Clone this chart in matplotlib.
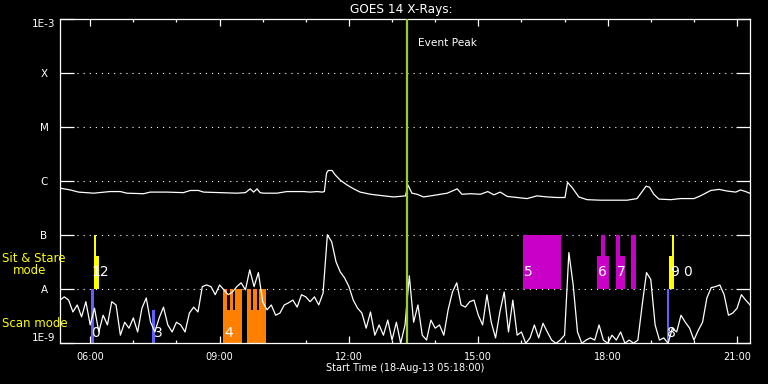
import numpy as np
import matplotlib
matplotlib.use("Agg")
import matplotlib.pyplot as plt
from matplotlib.ticker import FixedLocator, NullLocator

# GOES 14, 0.5-4 A channel: log10 flux, one reading every 6 min from 05:18
short_log = [
    -8.20, -8.14, -8.20, -8.42, -8.29, -8.51, -8.23, -8.66, -8.35, -8.79,
    -8.48, -8.66, -8.23, -8.29, -8.85, -8.61, -8.72, -8.53, -8.79, -8.35,
    -8.16, -8.61, -8.79, -8.53, -8.33, -8.66, -8.79, -8.61, -8.66, -8.79,
    -8.44, -8.33, -8.42, -7.95, -7.92, -7.95, -8.10, -7.92, -8.01, -8.10,
    -8.05, -7.95, -7.88, -8.01, -7.64, -7.95, -7.69, -8.23, -8.38, -8.29,
    -8.48, -8.44, -8.29, -8.25, -8.20, -8.33, -8.10, -8.14, -8.23, -8.14,
    -8.29, -8.07, -6.99, -7.12, -7.49, -7.68, -7.79, -7.95, -8.20, -8.35,
    -8.44, -8.72, -8.42, -8.85, -8.66, -8.85, -8.57, -8.94, -8.61, -9.00,
    -8.66, -7.75, -8.61, -8.29, -8.85, -8.94, -8.57, -8.72, -8.66, -8.85,
    -8.38, -8.05, -7.88, -8.29, -8.33, -8.23, -8.20, -8.48, -8.66, -8.10,
    -8.61, -8.90, -8.42, -8.05, -8.79, -8.20, -8.85, -8.79, -9.00, -8.90,
    -8.66, -8.90, -8.63, -8.79, -8.94, -9.00, -8.94, -8.85, -7.32, -7.92,
    -8.79, -9.00, -8.94, -8.90, -8.94, -8.66, -8.94, -9.00, -8.85, -8.94,
    -8.79, -9.00, -8.94, -9.00, -8.94, -8.29, -7.69, -7.82, -8.66, -8.94,
    -8.90, -9.00, -8.72, -8.79, -8.48, -8.61, -8.72, -8.94, -8.76, -8.61,
    -8.16, -7.97, -7.95, -7.92, -8.10, -8.48, -8.44, -8.35, -8.10, -8.20, -8.29,
]
t_start = 5.3
cadence = 0.1

# 1-8 A channel: (hour, log10 flux)
long_hour = [
    5.32, 5.54, 5.73, 6.08, 6.46, 6.70, 6.85, 7.24, 7.39, 7.78,
    8.16, 8.32, 8.51, 8.63, 9.02, 9.40, 9.60, 9.71, 9.79, 9.87,
    9.94, 10.02, 10.33, 10.56, 10.95, 11.10, 11.26, 11.38, 11.43, 11.48,
    11.52, 11.61, 11.68, 11.80, 11.96, 12.11, 12.26, 12.50, 12.81, 13.04,
    13.31, 13.37, 13.46, 13.58, 13.73, 13.97, 14.28, 14.51, 14.62, 14.82,
    15.05, 15.22, 15.36, 15.51, 15.67, 15.90, 16.13, 16.36, 16.60, 16.83,
    17.01, 17.07, 17.18, 17.33, 17.52, 17.83, 18.14, 18.45, 18.68, 18.80,
    18.89, 18.97, 19.07, 19.19, 19.46, 19.69, 20.00, 20.15, 20.39, 20.58,
    20.77, 20.97, 21.08, 21.20, 21.29,
]
long_log = [
    -6.13, -6.16, -6.20, -6.22, -6.19, -6.19, -6.22, -6.23, -6.20, -6.20,
    -6.21, -6.17, -6.17, -6.20, -6.21, -6.22, -6.21, -6.14, -6.20, -6.14,
    -6.21, -6.22, -6.22, -6.19, -6.19, -6.20, -6.19, -6.20, -6.19, -5.85,
    -5.80, -5.80, -5.88, -5.98, -6.07, -6.14, -6.20, -6.24, -6.27, -6.29,
    -6.27, -6.07, -6.22, -6.24, -6.29, -6.26, -6.22, -6.14, -6.24, -6.23,
    -6.24, -6.19, -6.25, -6.20, -6.28, -6.30, -6.32, -6.27, -6.29, -6.30,
    -6.30, -6.02, -6.12, -6.29, -6.34, -6.35, -6.35, -6.35, -6.32, -6.19,
    -6.09, -6.11, -6.24, -6.33, -6.34, -6.32, -6.32, -6.27, -6.17, -6.15,
    -6.18, -6.20, -6.16, -6.19, -6.22,
]

event_peak = 13.355

# observing blocks: start/end hour, mode, fraction of the decade, colour
obs_start = [6.016, 7.432, 19.364,
             6.093, 6.093, 19.480, 19.433,
             9.079, 9.643, 9.079, 9.232, 9.357, 9.643, 9.782, 9.921,
             16.046, 17.856, 17.763, 18.204, 18.204, 18.552]
obs_end = [6.093, 7.508, 19.433,
           6.146, 6.193, 19.527, 19.527,
           9.520, 10.076, 9.172, 9.304, 9.520, 9.735, 9.868, 10.076,
           16.928, 17.949, 18.042, 18.297, 18.390, 18.668]
obs_mode = ['scan', 'scan', 'scan',
            'sit', 'sit', 'sit', 'sit',
            'scan', 'scan', 'scan', 'scan', 'scan', 'scan', 'scan', 'scan',
            'sit', 'sit', 'sit', 'sit', 'sit', 'sit']
obs_frac = [1.0, 0.61, 1.0,
            1.0, 0.61, 1.0, 0.61,
            0.61, 0.61, 1.0, 1.0, 1.0, 1.0, 1.0, 1.0,
            1.0, 1.0, 0.61, 1.0, 0.61, 1.0]
obs_color = ['#6060ff', '#6060ff', '#6060ff',
             '#ffff00', '#ffff00', '#ffff00', '#ffff00',
             '#ff8000', '#ff8000', '#ff8000', '#ff8000', '#ff8000', '#ff8000', '#ff8000', '#ff8000',
             '#c800c8', '#c800c8', '#c800c8', '#c800c8', '#c800c8', '#c800c8']

label_text = ['0', '12', '3', '4', '5', '6', '7', '8', '9', '0']
label_hour = [6.131, 6.240, 7.571, 9.206, 16.167, 17.879, 18.308, 19.476, 19.543, 19.845]
label_mode = ['scan', 'sit', 'scan', 'scan', 'sit', 'sit', 'sit', 'scan', 'sit', 'sit']

levels = [1e-9, 1e-8, 1e-7, 1e-6, 1e-5, 1e-4, 1e-3]
level_names = ['1E-9', 'A', 'B', 'C', 'M', 'X', '1E-3']
hour_major = [6, 9, 12, 15, 18, 21]
hour_minor = [7, 8, 10, 11, 13, 14, 16, 17, 19, 20]

fig = plt.figure(figsize=(7.68, 3.84), dpi=100, facecolor='black')
ax = fig.add_axes([60 / 768, 1 - 343.3 / 384, 690 / 768, 324 / 384])
ax.set_facecolor('black')
ax.set_yscale('log')
ax.set_xlim(5.3, 21.3)
ax.set_ylim(1e-9, 1e-3)

# observing blocks
base = {'scan': -9.0, 'sit': -8.0}
bottoms = [10 ** base[m] for m in obs_mode]
tops = [10 ** (base[m] + f) for m, f in zip(obs_mode, obs_frac)]
widths = [e - s for s, e in zip(obs_start, obs_end)]
ax.bar(obs_start, [t - b for t, b in zip(tops, bottoms)], width=widths,
       bottom=bottoms, align='edge', color=obs_color, linewidth=0, zorder=2)

# dotted class levels
inset = 14.5 / 690
for lv in levels[1:-1]:
    ax.axhline(lv, xmin=inset + 0.004, xmax=1 - inset - 0.004, color='white',
               lw=0.8, linestyle=(0, (1, 4.5)), zorder=1)

t_short = t_start + cadence * np.arange(len(short_log))
ax.plot(t_short, 10 ** np.array(short_log), color='white', lw=0.9, zorder=3)
ax.plot(long_hour, 10 ** np.array(long_log), color='white', lw=0.9, zorder=3)

ax.axvline(event_peak, color='#9acd32', lw=1.6, zorder=4)
ax.text(event_peak + 0.25, 10 ** -3.43, 'Event Peak', color='white',
        fontsize=7.6, va='center', ha='left')

lab_y = {'scan': 10 ** -8.81, 'sit': 10 ** -7.68}
for txt, h, m in zip(label_text, label_hour, label_mode):
    ax.text(h, lab_y[m], txt, color='white', fontsize=10, ha='center',
            va='center', zorder=5)

# axes styling
for sp in ax.spines.values():
    sp.set_color('white')
    sp.set_linewidth(0.9)

ax.xaxis.set_major_locator(FixedLocator(hour_major))
ax.xaxis.set_minor_locator(FixedLocator(hour_minor))
ax.set_xticklabels(['%02d:00' % h for h in hour_major])
ax.tick_params(axis='x', which='both', direction='in', top=True, bottom=True,
               colors='white', width=0.9, labelsize=7, pad=6)
ax.tick_params(axis='x', which='major', length=4.7)
ax.tick_params(axis='x', which='minor', length=2.5)

ax.yaxis.set_major_locator(FixedLocator(levels))
ax.yaxis.set_minor_locator(NullLocator())
ax.set_yticklabels(level_names)
ax.tick_params(axis='y', which='major', direction='in', left=True, right=True,
               length=10.4, width=0.9, colors='white', labelsize=7.5, pad=11.5)
ylabs = ax.get_yticklabels()
for lab in ylabs:
    lab.set_horizontalalignment('center')
ylabs[0].set_verticalalignment('bottom')
ylabs[-1].set_verticalalignment('top')

fig.text(401.7 / 768, 1 - 10 / 384, 'GOES 14 X-Rays:', color='white',
         fontsize=8.7, ha='center', va='center')
fig.text(405 / 768, 1 - 368 / 384, 'Start Time (18-Aug-13 05:18:00)',
         color='white', fontsize=7, ha='center', va='center')

fig.text(2 / 768, 1 - 258 / 384, 'Sit & Stare', color='#ffff00',
         fontsize=8.5, ha='left', va='center')
fig.text(12.7 / 768, 1 - 270.5 / 384, 'mode', color='#ffff00',
         fontsize=8.5, ha='left', va='center')
fig.text(2 / 768, 1 - 323.5 / 384, 'Scan mode', color='#ffff00',
         fontsize=8.5, ha='left', va='center')

fig.savefig('out.png', dpi=100, facecolor='black')
